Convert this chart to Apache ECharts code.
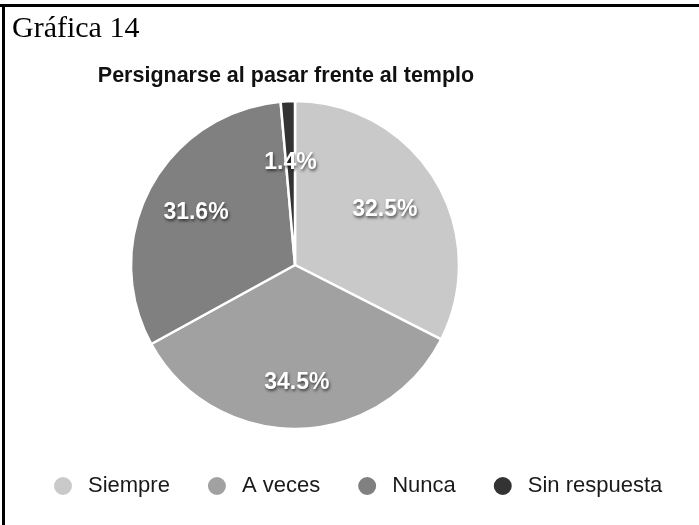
<!DOCTYPE html>
<html>
<head>
<meta charset="utf-8">
<script src="https://cdn.jsdelivr.net/npm/echarts@6/dist/echarts.min.js"></script>
<style>
html,body{margin:0;padding:0;background:#fff;}
#c{width:699px;height:525px;}
</style>
</head>
<body>
<div id="c"></div>
<script>
const categories = ['Siempre', 'A veces', 'Nunca', 'Sin respuesta'];
const values = [32.5, 34.5, 31.6, 1.4];
const colors = ['#c9c9c9', '#a1a1a1', '#808080', '#333333'];
const labelRadii = [0.62, 0.69, 0.66, 0.60];

const chart = echarts.init(document.getElementById('c'));
const CX = 295, CY = 265, R = 164;

chart.setOption({
  animation: false,
  color: colors,
  title: [
    { text: 'Gráfica 14', left: 7, top: 9,
      textStyle: { fontFamily: 'Liberation Serif', fontSize: 30, fontWeight: 'normal', color: '#000' } },
    { text: 'Persignarse al pasar frente al templo', left: 281, top: 60, textAlign: 'center',
      textStyle: { fontFamily: 'Liberation Sans', fontSize: 21.5, fontWeight: 'bold', color: '#111' } }
  ],
  legend: {
    data: categories,
    left: 47, top: 470,
    icon: 'circle', itemWidth: 20, itemHeight: 20, itemGap: 36,
    textStyle: { fontFamily: 'Liberation Sans', fontSize: 22, color: '#1a1a1a', padding: [0, 0, 0, 10] }
  },
  graphic: [
    { type: 'rect', shape: { x: 0, y: 4, width: 699, height: 3 }, style: { fill: '#000' } },
    { type: 'rect', shape: { x: 2, y: 4, width: 3, height: 521 }, style: { fill: '#000' } }
  ],
  series: [{
    type: 'pie',
    center: [CX, CY],
    radius: [0, R],
    startAngle: 90,
    clockwise: true,
    itemStyle: { borderColor: '#fff', borderWidth: 2.5 },
    label: {
      show: true, position: 'inside',
      formatter: p => p.value.toFixed(1) + '%',
      fontFamily: 'Liberation Sans', fontSize: 23, fontWeight: 'bold', color: '#fff',
      textShadowColor: 'rgba(0,0,0,0.6)', textShadowBlur: 3, textShadowOffsetX: 1, textShadowOffsetY: 2
    },
    labelLayout: function (p) {
      const lx = p.labelRect.x + p.labelRect.width / 2;
      const ly = p.labelRect.y + p.labelRect.height / 2;
      const dx = lx - CX, dy = ly - CY;
      const k = labelRadii[p.dataIndex] / 0.5;
      return { x: CX + dx * k, y: CY + dy * k, align: 'center', verticalAlign: 'middle' };
    },
    data: categories.map((c, i) => ({ name: c, value: values[i] }))
  }]
});
</script>
</body>
</html>
